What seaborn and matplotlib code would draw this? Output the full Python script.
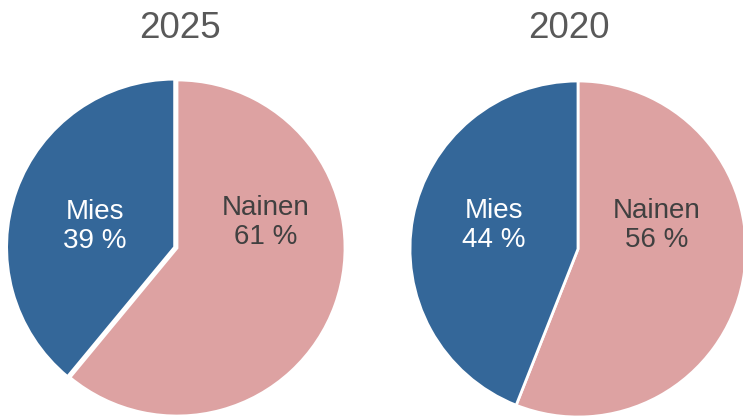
import matplotlib
matplotlib.use("Agg")
import matplotlib.pyplot as plt
import seaborn as sns

# data
years = ["2025", "2020"]
groups = ["Nainen", "Mies"]
shares = {"2025": [61, 39], "2020": [56, 44]}
colors = ["#DDA2A2", "#346799"]
text_colors = ["#404040", "#FFFFFF"]

sns.set_theme(style="white")
plt.rcParams["font.family"] = ["Liberation Sans", "DejaVu Sans"]

W, H = 743, 419
fig = plt.figure(figsize=(W / 100, H / 100), dpi=100)
fig.patch.set_facecolor("white")

# pie centres / radius in pixels, label spots in axis units, title x in pixels
centres = [(177, 248), (578, 249)]
radius = 168
label_pos = {
    "2025": [(0.53, 0.15), (-0.49, 0.13)],
    "2020": [(0.47, 0.14), (-0.50, 0.14)],
}
explode = {"2025": [0, 0.015], "2020": [0, 0]}
title_x = [180, 569]

for i, year in enumerate(years):
    cx, cy = centres[i]
    ax = fig.add_axes([(cx - radius) / W, (H - cy - radius) / H,
                       2 * radius / W, 2 * radius / H])
    ax.pie(shares[year], colors=colors, startangle=90, counterclock=False,
           radius=1, explode=explode[year],
           wedgeprops=dict(edgecolor="white", linewidth=2))
    ax.set_xlim(-1, 1)
    ax.set_ylim(-1, 1)
    ax.set_aspect("equal")
    ax.axis("off")
    for j, g in enumerate(groups):
        x, y = label_pos[year][j]
        ax.text(x, y, f"{g}\n{shares[year][j]} %", ha="center", va="center",
                fontsize=20, color=text_colors[j], linespacing=1.15)
    fig.text(title_x[i] / W, 1 - 28 / H, year, ha="center", va="center",
             fontsize=26.5, color="#595959")

fig.savefig("out.png", dpi=100, facecolor="white")
